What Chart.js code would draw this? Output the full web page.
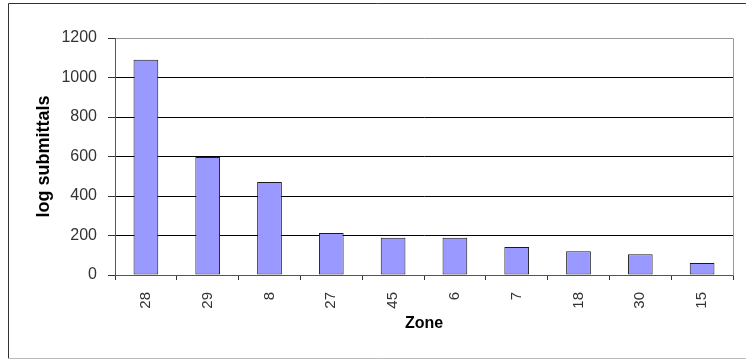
<!DOCTYPE html>
<html>
<head>
<meta charset="utf-8">
<script src="https://cdn.jsdelivr.net/npm/chart.js@4"></script>
<style>
  html, body { margin: 0; padding: 0; background: #fff; }
  canvas { display: block; }
</style>
</head>
<body>
<canvas id="chart" width="746" height="360"></canvas>
<script>
// Log submittals per zone, sorted from busiest to quietest
const zones = ['28', '29', '8', '27', '45', '6', '7', '18', '30', '15'];
const submittals = [1090, 598, 471, 213, 189, 189, 142, 120, 105, 61];
const yTicks = [0, 200, 400, 600, 800, 1000, 1200];

const FONT = '"Liberation Sans", Arial, sans-serif';

// White background, outer frame and the grey right edge of the plot area
const frame = {
  id: 'frame',
  beforeDraw(chart) {
    const c = chart.ctx;
    c.save();
    c.fillStyle = '#fff';
    c.fillRect(0, 0, chart.width, chart.height);
    c.strokeStyle = '#333';
    c.lineWidth = 1;
    c.beginPath();
    c.moveTo(chart.width + 5, 3.5);
    c.lineTo(8.5, 3.5);
    c.lineTo(8.5, 358.5);
    c.stroke();
    c.strokeStyle = '#bbb';
    c.beginPath();
    c.moveTo(8.5, 358.5);
    c.lineTo(chart.width + 5, 358.5);
    c.stroke();
    c.restore();
  },
  afterDatasetsDraw(chart) {
    const a = chart.chartArea;
    const c = chart.ctx;
    c.save();
    c.strokeStyle = '#999';
    c.lineWidth = 1;
    const x = Math.round(a.right) + 0.5;
    c.beginPath();
    c.moveTo(x, Math.round(a.top) + 0.5);
    c.lineTo(x, Math.round(a.bottom) + 0.5);
    c.stroke();
    c.restore();
  }
};

new Chart(document.getElementById('chart'), {
  type: 'bar',
  data: {
    labels: zones,
    datasets: [{
      data: submittals,
      backgroundColor: '#9999ff',
      borderColor: '#1a1a1a',
      borderWidth: 1,
      borderSkipped: false,
      barPercentage: 0.4,
      categoryPercentage: 1.0
    }]
  },
  options: {
    responsive: false,
    animation: false,
    devicePixelRatio: 1,
    layout: { padding: { left: 10, top: 38, right: 13, bottom: 0 } },
    plugins: { legend: { display: false }, tooltip: { enabled: false } },
    scales: {
      x: {
        offset: true,
        grid: {
          offset: true,
          drawOnChartArea: false,
          drawTicks: true,
          tickLength: 5,
          tickColor: '#333'
        },
        border: { color: '#555', width: 1 },
        ticks: {
          color: '#333',
          font: { family: FONT, size: 15 },
          minRotation: 90,
          maxRotation: 90,
          padding: 12,
          autoSkip: false
        },
        title: {
          display: true,
          text: 'Zone',
          color: '#000',
          font: { family: FONT, size: 16, weight: 'bold' },
          padding: { top: 0, bottom: 27 }
        },
        afterFit(scale) { scale.height = 85; }
      },
      y: {
        min: 0,
        max: 1200,
        afterBuildTicks(scale) { scale.ticks = yTicks.map(v => ({ value: v })); },
        grid: {
          color: ctx => (ctx.tick && ctx.tick.value === 1200) ? '#999' : '#000',
          tickColor: '#333',
          tickLength: 7,
          drawTicks: true
        },
        border: { color: '#555', width: 1 },
        ticks: {
          color: '#333',
          font: { family: FONT, size: 16 },
          padding: 11,
          callback: v => String(v)
        },
        title: {
          display: true,
          text: 'log submittals',
          color: '#000',
          font: { family: FONT, size: 18, weight: 'bold' },
          padding: { top: 23, bottom: 0 }
        },
        afterFit(scale) { scale.width = 105; }
      }
    }
  },
  plugins: [frame]
});
</script>
</body>
</html>
